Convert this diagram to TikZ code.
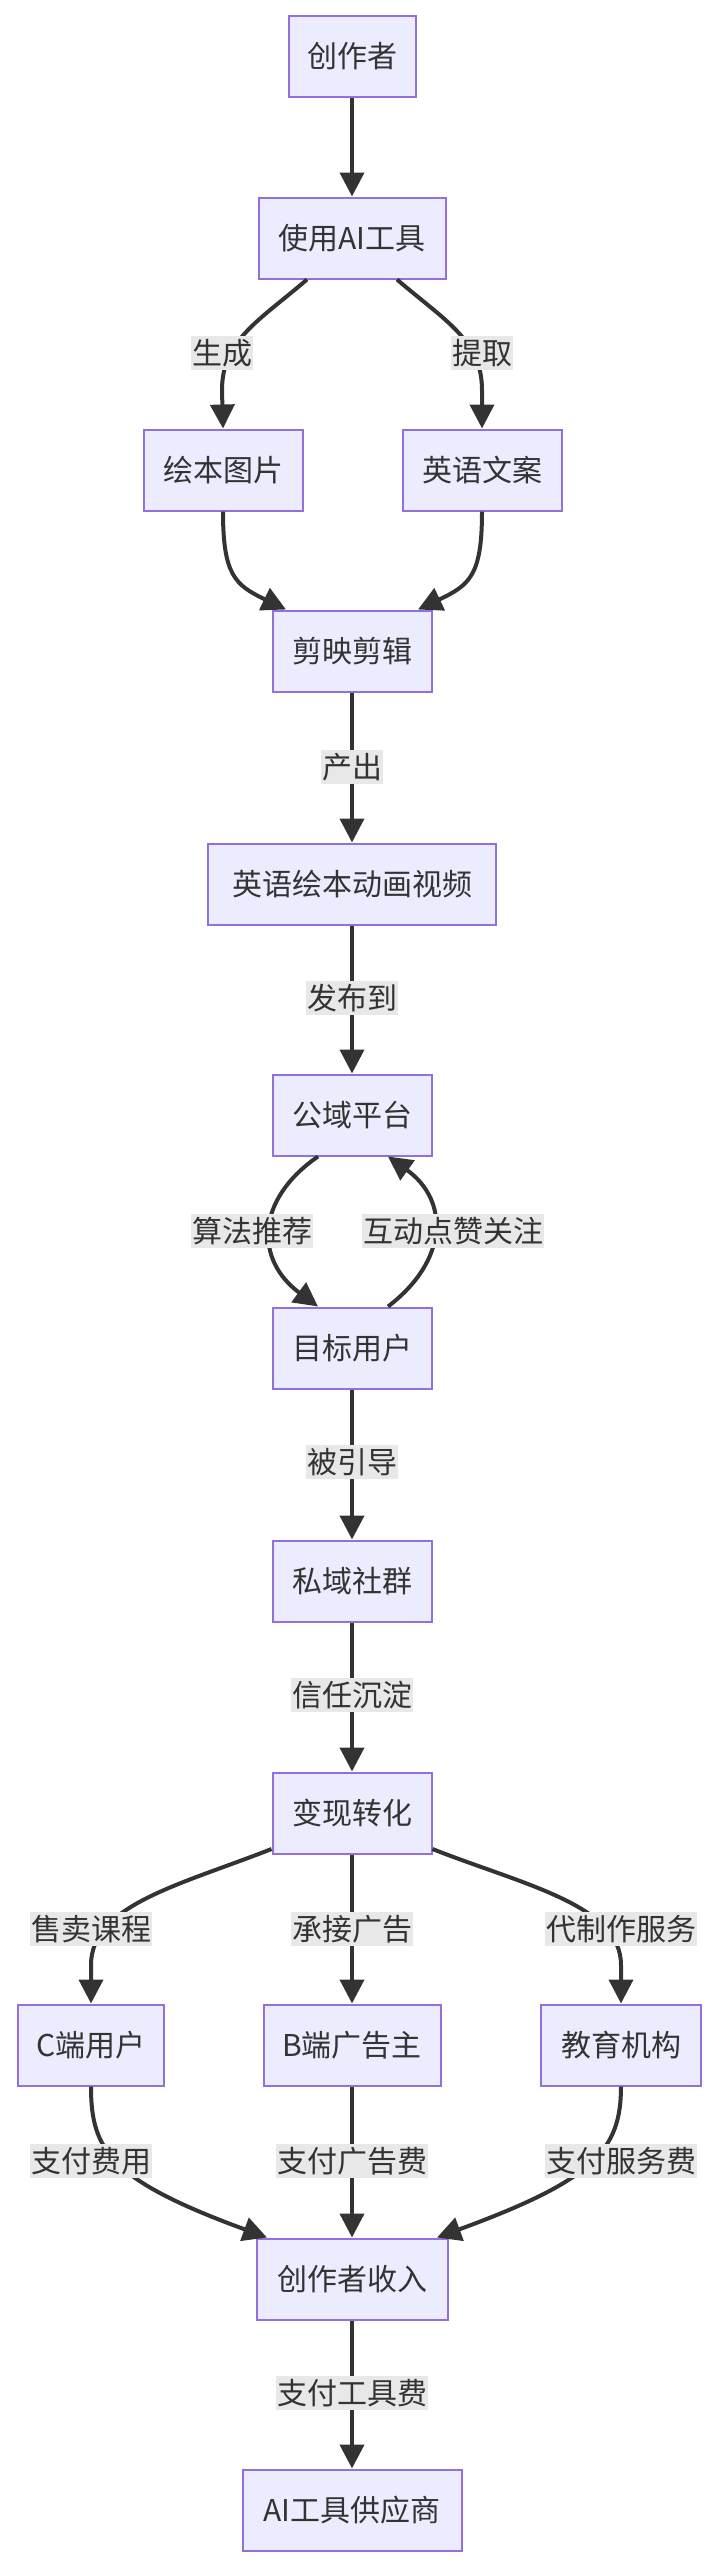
\documentclass[tikz,border=0pt]{standalone}
\usepackage{fontspec}
\setmainfont{Noto Sans CJK SC}
\usetikzlibrary{arrows.meta,calc}
\definecolor{boxfill}{HTML}{ECECFF}
\definecolor{boxline}{HTML}{9370DB}
\definecolor{txt}{HTML}{333333}
\definecolor{lblfill}{HTML}{E8E8E8}
\tikzset{
  box/.style={draw=boxline,fill=boxfill,line width=2pt,minimum height=81pt,inner sep=0pt,text=txt,font=\fontsize{30}{34}\selectfont},
  lbl/.style={fill=lblfill,inner xsep=1pt,inner ysep=3pt,text=txt,font=\fontsize{30}{34}\selectfont},
  edge/.style={draw=txt,line width=4pt,-{Triangle[length=24pt,width=24pt]}},
}
\begin{document}
\begin{tikzpicture}[x=1pt,y=-1pt]
\useasboundingbox (0,0) rectangle (716,2568);
\node[box,minimum width=127pt] (a) at (352,56) {创作者};
\node[box,minimum width=187pt] (b) at (352,238) {使用AI工具};
\node[box,minimum width=159pt] (c) at (223,470) {绘本图片};
\node[box,minimum width=159pt] (d) at (482,470) {英语文案};
\node[box,minimum width=159pt] (e) at (352,651) {剪映剪辑};
\node[box,minimum width=288pt] (f) at (352,884) {英语绘本动画视频};
\node[box,minimum width=159pt] (g) at (352,1115) {公域平台};
\node[box,minimum width=159pt] (h) at (352,1348) {目标用户};
\node[box,minimum width=159pt] (i) at (352,1581) {私域社群};
\node[box,minimum width=159pt] (j) at (352,1813) {变现转化};
\node[box,minimum width=146pt] (k) at (91,2045) {C端用户};
\node[box,minimum width=177pt] (l) at (352,2045) {B端广告主};
\node[box,minimum width=160pt] (m) at (621,2045) {教育机构};
\node[box,minimum width=191pt] (n) at (352,2279) {创作者收入};
\node[box,minimum width=219pt] (o) at (352,2510) {AI工具供应商};

\draw[edge] (a) -- (b);
\draw[edge] ($(b.south)+(-45,0)$) .. controls (260,320) and (222,340) .. (222,390) -- (c.north);
\draw[edge] ($(b.south)+(45,0)$) .. controls (444,320) and (482,340) .. (482,390) -- (d.north);
\draw[edge] (c.south) .. controls (223,575) and (235,585) .. ($(e.north)+(-66,0)$);
\draw[edge] (d.south) .. controls (482,575) and (470,585) .. ($(e.north)+(66,0)$);
\draw[edge] (e) -- (f);
\draw[edge] (f) -- (g);
\draw[edge] ($(g.south)+(-34,0)$) .. controls (255,1200) and (255,1260) .. ($(h.north)+(-34,0)$);
\draw[edge] ($(h.north)+(36,0)$) .. controls (449,1260) and (449,1200) .. ($(g.south)+(36,0)$);
\draw[edge] (h) -- (i);
\draw[edge] (i) -- (j);
\draw[edge] ($(j.west)+(0,36)$) .. controls (180,1885) and (91,1905) .. (91,1965) -- (k.north);
\draw[edge] (j) -- (l);
\draw[edge] ($(j.east)+(0,36)$) .. controls (524,1885) and (621,1905) .. (621,1965) -- (m.north);
\draw[edge] (k.south) .. controls (91,2150) and (110,2180) .. ($(n.north)+(-85,0)$);
\draw[edge] (l) -- (n);
\draw[edge] (m.south) .. controls (621,2150) and (594,2180) .. ($(n.north)+(85,0)$);
\draw[edge] (n) -- (o);

\node[lbl] (l1) at (222,353) {生成};
\node[lbl] (l2) at (482,353) {提取};
\node[lbl] (l3) at (352,767) {产出};
\node[lbl] (l4) at (352,998) {发布到};
\node[lbl] (l5) at (252,1231) {算法推荐};
\node[lbl] (l6) at (453,1231) {互动点赞关注};
\node[lbl] (l7) at (352,1462) {被引导};
\node[lbl] (l8) at (352,1695) {信任沉淀};
\node[lbl] (l9) at (91,1929) {售卖课程};
\node[lbl] (l10) at (352,1929) {承接广告};
\node[lbl] (l11) at (621,1929) {代制作服务};
\node[lbl] (l12) at (91,2161) {支付费用};
\node[lbl] (l13) at (352,2161) {支付广告费};
\node[lbl] (l14) at (621,2161) {支付服务费};
\node[lbl] (l15) at (352,2393) {支付工具费};
\end{tikzpicture}
\end{document}
